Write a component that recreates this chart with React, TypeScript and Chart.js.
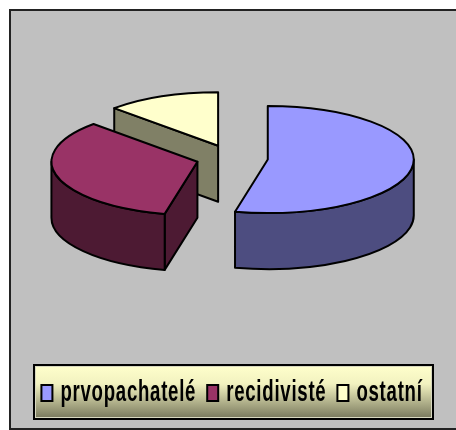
import React, { useEffect, useRef } from "react";
import { Chart, registerables } from "chart.js";

Chart.register(...registerables);

const categories = ["prvopachatelé", "recidivisté", "ostatní"];
const shares = [53.6, 33.8, 12.6];
const topColors = ["#9999FF", "#993366", "#FFFFCC"];
const sideColors = ["#4D4D80", "#4D1A33", "#808066"];

const TILT = 0.367;
const DEPTH = 56;
const SHIFT_Y = -25.5;
const TEXT_SQUEEZE = 0.62;
const GAP_TRIM = 7;
const LETTER_GAP = "1.2px";

const pie3d = {
  id: "pie3d",
  beforeInit(chart: any) {
    const c = chart.ctx;
    const measure = c.measureText.bind(c);
    const fill = c.fillText.bind(c);
    c.measureText = (t: string) => {
      c.letterSpacing = LETTER_GAP;
      const w = measure(t).width;
      c.letterSpacing = "0px";
      return { width: w * TEXT_SQUEEZE - GAP_TRIM };
    };
    c.fillText = (t: string, x: number, y: number) => {
      c.save();
      c.letterSpacing = LETTER_GAP;
      c.translate(x - GAP_TRIM, y);
      c.scale(TEXT_SQUEEZE, 1);
      fill(t, 0, 0);
      c.restore();
    };
  },
  beforeDraw(chart: any) {
    const c = chart.ctx;
    c.save();
    c.fillStyle = "#FFFFFF";
    c.fillRect(0, 0, chart.width, chart.height);
    c.fillStyle = "#C0C0C0";
    c.fillRect(9, 10, chart.width - 9, 419);
    c.fillStyle = "#222222";
    c.fillRect(9, 9, chart.width - 9, 2);
    c.fillRect(9, 9, 2, 421);
    c.fillRect(9, 428, chart.width - 9, 2);
    const x = 34, y = 365, w = 399, h = 54;
    const g = c.createLinearGradient(0, y, 0, y + h);
    g.addColorStop(0, "#FFFFCC");
    g.addColorStop(0.35, "#F2F2C0");
    g.addColorStop(1, "#75755A");
    c.fillStyle = g;
    c.fillRect(x, y, w, h);
    c.strokeStyle = "#D8D8C0";
    c.lineWidth = 1;
    c.strokeRect(x + 1.5, y + 1.5, w - 3, h - 3);
    c.strokeStyle = "#000000";
    c.lineWidth = 2;
    c.strokeRect(x, y, w, h);
    c.restore();
  },
  beforeDatasetDraw(chart: any, args: any) {
    const c = chart.ctx;
    const arcs = args.meta.data;
    c.save();
    c.lineJoin = "round";
    c.lineWidth = 2;
    c.strokeStyle = "#000000";
    for (let i = arcs.length - 1; i >= 0; i--) {
      const arc = arcs[i];
      const { x, y, startAngle: a0, endAngle: a1, outerRadius: R } = arc.getProps(["x", "y", "startAngle", "endAngle", "outerRadius"]);
      const mid = (a0 + a1) / 2;
      const off = arc.options.offset;
      const cx = x + Math.cos(mid) * off;
      const cy = y + SHIFT_Y + Math.sin(mid) * off * TILT;
      const ry = R * TILT;
      const px = (a: number) => cx + Math.cos(a) * R;
      const py = (a: number) => cy + Math.sin(a) * ry;
      const wall = (a: number) => {
        c.beginPath();
        c.moveTo(cx, cy);
        c.lineTo(px(a), py(a));
        c.lineTo(px(a), py(a) + DEPTH);
        c.lineTo(cx, cy + DEPTH);
        c.closePath();
        c.fillStyle = sideColors[i];
        c.fill();
        c.stroke();
      };
      if (Math.cos(a0) < -1e-6) wall(a0);
      if (Math.cos(a1) > 1e-6) wall(a1);
      const r0 = Math.max(a0, 0);
      const r1 = Math.min(a1, Math.PI);
      if (r1 > r0) {
        c.beginPath();
        c.ellipse(cx, cy, R, ry, 0, r0, r1);
        c.lineTo(px(r1), py(r1) + DEPTH);
        c.ellipse(cx, cy + DEPTH, R, ry, 0, r1, r0, true);
        c.closePath();
        c.fillStyle = sideColors[i];
        c.fill();
        c.stroke();
      }
      c.beginPath();
      c.moveTo(cx, cy);
      c.ellipse(cx, cy, R, ry, 0, a0, a1);
      c.closePath();
      c.fillStyle = topColors[i];
      c.fill();
      c.stroke();
    }
    c.restore();
    return false;
  },
};

export default function App() {
  const ref = useRef<HTMLCanvasElement>(null);
  useEffect(() => {
    const chart = new Chart(ref.current!, {
      type: "pie",
      data: {
        labels: categories,
        datasets: [
          {
            data: shares,
            backgroundColor: topColors,
            borderColor: "#000000",
            borderWidth: 2,
            offset: 36,
          },
        ],
      },
      options: {
        animation: false,
        responsive: false,
        radius: 146,
        layout: { padding: { left: 8, bottom: 12, top: 0, right: 0 } },
        plugins: {
          tooltip: { enabled: false },
          title: { display: false },
          legend: {
            position: "bottom",
            labels: {
              boxWidth: 11,
              boxHeight: 16,
              padding: 11,
              color: "#000000",
              font: { family: "'Liberation Sans', sans-serif", size: 30, weight: "bold" },
            },
          },
        },
      },
      plugins: [pie3d],
    } as any);
    return () => chart.destroy();
  }, []);
  return (
    <div style={{ position: "fixed", left: 0, top: 0, width: 456, height: 430 }}>
      <canvas ref={ref} width={456} height={430} style={{ display: "block" }} />
    </div>
  );
}
